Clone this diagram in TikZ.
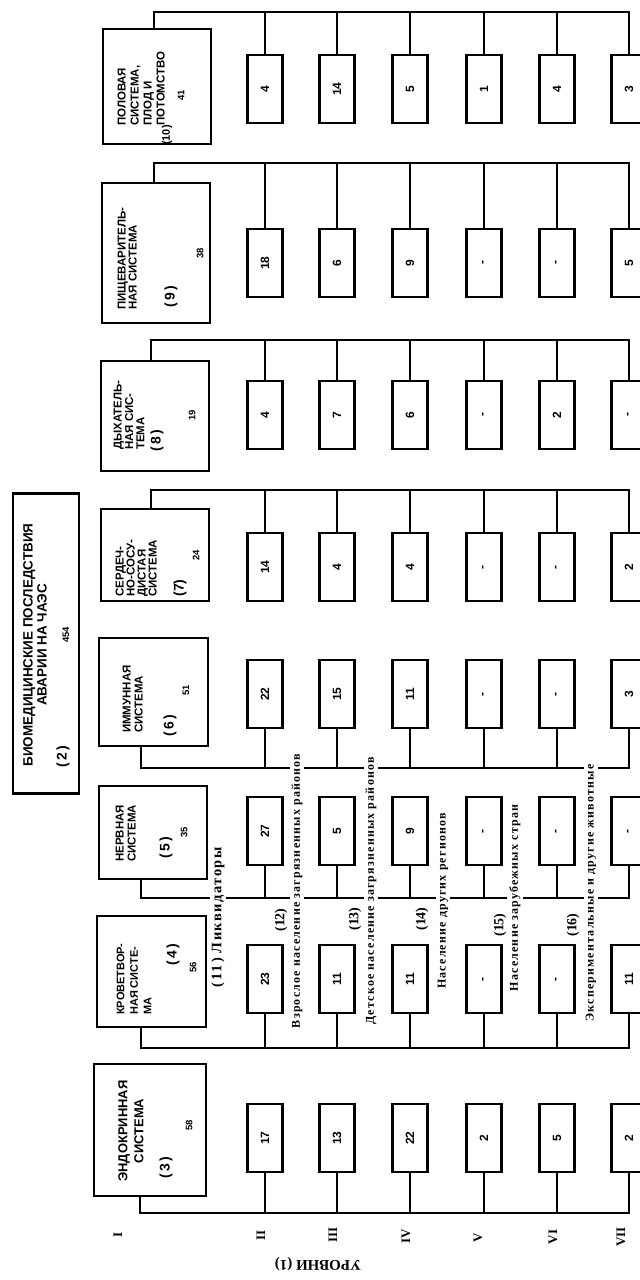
\documentclass[tikz,border=0pt]{standalone}
\usepackage{fontspec}
\setmainfont{Liberation Serif}
\setsansfont{Liberation Sans}
\newfontfamily\grpfont{Liberation Serif}[LetterSpace=10]
\usetikzlibrary{calc}
\tikzset{
  sysbox/.style={draw,line width=2.4pt,inner sep=0pt},
  numbox/.style={draw,line width=2.4pt,rotate=90,minimum width=68pt,minimum height=35pt,inner sep=0pt,font=\sffamily\bfseries\fontsize{12}{12}\selectfont},
  systxt/.style={rotate=90,anchor=north west,inner sep=0pt,align=left,font=\sffamily\bfseries\fontsize{11.5}{12}\selectfont},
  sysno/.style={rotate=90,inner sep=0pt,font=\sffamily\bfseries\fontsize{14}{14}\selectfont},
  sysval/.style={rotate=90,inner sep=0pt,font=\sffamily\bfseries\fontsize{9.5}{9.5}\selectfont},
  grp/.style={rotate=90,fill=white,inner sep=2pt,font=\grpfont\bfseries\fontsize{12}{12}\selectfont},
  grpno/.style={rotate=90,inner sep=0pt,font=\bfseries\fontsize{14}{14}\selectfont},
  lvl/.style={rotate=90,inner sep=0pt,font=\bfseries\fontsize{13}{13}\selectfont},
  bus/.style={line width=2.4pt},
  tie/.style={line width=2pt},
}

\begin{document}
\begin{tikzpicture}[x=1bp,y=-1bp]
  \useasboundingbox (0,0) rectangle (640,1280);
  % ── root ──
  \node[sysbox,minimum width=66,minimum height=301] (root) at (46,643.5) {};
  \node[systxt,anchor=center,align=center,font=\sffamily\bfseries\fontsize{13.5}{14}\selectfont] (roott) at (35,645) {БИОМЕДИЦИНСКИЕ ПОСЛЕДСТВИЯ\\АВАРИИ НА ЧАЭС};
  \node[sysno] (rootn) at (63,757) {(\,2\,)};
  \node[sysval] (rootv) at (66,635) {454};
  % ── system boxes ──
  \node[sysbox,minimum width=108,minimum height=115] (s10) at (157,86.5) {};
  \node[systxt,font=\sffamily\bfseries\fontsize{11.5}{13}\selectfont] (s10t) at (117.5,126) {ПОЛОВАЯ\\СИСТЕМА,\\ПЛОД И\\ПОТОМСТВО};
  \node[sysno,font=\sffamily\bfseries\fontsize{11}{11}\selectfont] (s10n) at (167,135) {(10)}; \node[sysval] (s10v) at (181,95) {41};
  \node[sysbox,minimum width=108,minimum height=140] (s9) at (156,253) {};
  \node[systxt,font=\sffamily\bfseries\fontsize{11.5}{11}\selectfont] (s9t) at (117.5,310) {ПИЩЕВАРИТЕЛЬ-\\НАЯ СИСТЕМА};
  \node[sysno] (s9n) at (171,297) {(\,9\,)}; \node[sysval] (s9v) at (200,253) {38};
  \node[sysbox,minimum width=108,minimum height=110] (s8) at (155,416) {};
  \node[systxt,font=\sffamily\bfseries\fontsize{11.5}{11.5}\selectfont] (s8t) at (113.5,450) {ДЫХАТЕЛЬ-\\НАЯ СИС-\\ТЕМА};
  \node[sysno] (s8n) at (157,441) {(\,8\,)}; \node[sysval] (s8v) at (192,415) {19};
  \node[sysbox,minimum width=108,minimum height=92] (s7) at (155,555) {};
  \node[systxt,font=\sffamily\bfseries\fontsize{11.5}{11}\selectfont] (s7t) at (115.5,597) {СЕРДЕЧ-\\НО-СОСУ-\\ДИСТАЯ\\СИСТЕМА};
  \node[sysno] (s7n) at (180,588) {(7)}; \node[sysval] (s7v) at (196,555) {24};
  \node[sysbox,minimum width=109,minimum height=108] (s6) at (153.5,692) {};
  \node[systxt] (s6t) at (122.5,733) {ИММУННАЯ\\СИСТЕМА};
  \node[sysno] (s6n) at (170,726) {(\,6\,)}; \node[sysval] (s6v) at (186,690) {51};
  \node[sysbox,minimum width=108,minimum height=93] (s5) at (153,832.5) {};
  \node[systxt] (s5t) at (115.5,862) {НЕРВНАЯ\\СИСТЕМА};
  \node[sysno] (s5n) at (166,848) {(\,5\,)}; \node[sysval] (s5v) at (184,832) {35};
  \node[sysbox,minimum width=109,minimum height=111] (s4) at (151.5,971.5) {};
  \node[systxt,font=\sffamily\bfseries\fontsize{11}{13.5}\selectfont] (s4t) at (116.5,1015) {КРОВЕТВОР-\\НАЯ СИСТЕ-\\МА};
  \node[sysno] (s4n) at (173,955) {(\,4\,)}; \node[sysval] (s4v) at (193,967) {56};
  \node[sysbox,minimum width=112,minimum height=132] (s3) at (150,1130) {};
  \node[systxt,anchor=center,align=center,font=\sffamily\bfseries\fontsize{13}{16}\selectfont] (s3t) at (131,1131) {ЭНДОКРИННАЯ\\СИСТЕМА};
  \node[sysno] (s3n) at (166,1168) {(\,3\,)}; \node[sysval] (s3v) at (189,1125) {58};
  % ── values ──
  \node[numbox] (n10a) at (265,89) {4}; \node[numbox] (n10b) at (337,89) {14}; \node[numbox] (n10c) at (410,89) {5};
  \node[numbox] (n10d) at (484,89) {1}; \node[numbox] (n10e) at (557,89) {4}; \node[numbox] (n10f) at (629,89) {3};
  \node[numbox] (n9a) at (265,263) {18}; \node[numbox] (n9b) at (337,263) {6}; \node[numbox] (n9c) at (410,263) {9};
  \node[numbox] (n9d) at (484,263) {-}; \node[numbox] (n9e) at (557,263) {-}; \node[numbox] (n9f) at (629,263) {5};
  \node[numbox] (n8a) at (265,415) {4}; \node[numbox] (n8b) at (337,415) {7}; \node[numbox] (n8c) at (410,415) {6};
  \node[numbox] (n8d) at (484,415) {-}; \node[numbox] (n8e) at (557,415) {2}; \node[numbox] (n8f) at (629,415) {-};
  \node[numbox] (n7a) at (265,567) {14}; \node[numbox] (n7b) at (337,567) {4}; \node[numbox] (n7c) at (410,567) {4};
  \node[numbox] (n7d) at (484,567) {-}; \node[numbox] (n7e) at (557,567) {-}; \node[numbox] (n7f) at (629,567) {2};
  \node[numbox] (n6a) at (265,694) {22}; \node[numbox] (n6b) at (337,694) {15}; \node[numbox] (n6c) at (410,694) {11};
  \node[numbox] (n6d) at (484,694) {-}; \node[numbox] (n6e) at (557,694) {-}; \node[numbox] (n6f) at (629,694) {3};
  \node[numbox] (n5a) at (265,831) {27}; \node[numbox] (n5b) at (337,831) {5}; \node[numbox] (n5c) at (410,831) {9};
  \node[numbox] (n5d) at (484,831) {-}; \node[numbox] (n5e) at (557,831) {-}; \node[numbox] (n5f) at (629,831) {-};
  \node[numbox] (n4a) at (265,979) {23}; \node[numbox] (n4b) at (337,979) {11}; \node[numbox] (n4c) at (410,979) {11};
  \node[numbox] (n4d) at (484,979) {-}; \node[numbox] (n4e) at (557,979) {-}; \node[numbox] (n4f) at (629,979) {11};
  \node[numbox] (n3a) at (265,1138) {17}; \node[numbox] (n3b) at (337,1138) {13}; \node[numbox] (n3c) at (410,1138) {22};
  \node[numbox] (n3d) at (484,1138) {2}; \node[numbox] (n3e) at (557,1138) {5}; \node[numbox] (n3f) at (629,1138) {2};
  % ── buses ──
  \coordinate (b10) at (154,12); \coordinate (b9) at (154,163); \coordinate (b8) at (151,340); \coordinate (b7) at (151,490);
  \coordinate (b6) at (141,768); \coordinate (b5) at (141,898); \coordinate (b4) at (141,1048); \coordinate (b3) at (140,1213);
  \draw[bus] (s10.north -| b10) |- (n10f.east |- b10) -- (n10f.east);
  \draw[tie] (n10a.east) -- (n10a.east |- b10); \draw[tie] (n10b.east) -- (n10b.east |- b10); \draw[tie] (n10c.east) -- (n10c.east |- b10);
  \draw[tie] (n10d.east) -- (n10d.east |- b10); \draw[tie] (n10e.east) -- (n10e.east |- b10);
  \draw[bus] (s9.north -| b9) |- (n9f.east |- b9) -- (n9f.east);
  \draw[tie] (n9a.east) -- (n9a.east |- b9); \draw[tie] (n9b.east) -- (n9b.east |- b9); \draw[tie] (n9c.east) -- (n9c.east |- b9);
  \draw[tie] (n9d.east) -- (n9d.east |- b9); \draw[tie] (n9e.east) -- (n9e.east |- b9);
  \draw[bus] (s8.north -| b8) |- (n8f.east |- b8) -- (n8f.east);
  \draw[tie] (n8a.east) -- (n8a.east |- b8); \draw[tie] (n8b.east) -- (n8b.east |- b8); \draw[tie] (n8c.east) -- (n8c.east |- b8);
  \draw[tie] (n8d.east) -- (n8d.east |- b8); \draw[tie] (n8e.east) -- (n8e.east |- b8);
  \draw[bus] (s7.north -| b7) |- (n7f.east |- b7) -- (n7f.east);
  \draw[tie] (n7a.east) -- (n7a.east |- b7); \draw[tie] (n7b.east) -- (n7b.east |- b7); \draw[tie] (n7c.east) -- (n7c.east |- b7);
  \draw[tie] (n7d.east) -- (n7d.east |- b7); \draw[tie] (n7e.east) -- (n7e.east |- b7);
  \draw[bus] (s6.south -| b6) |- (n6f.west |- b6) -- (n6f.west);
  \draw[tie] (n6a.west) -- (n6a.west |- b6); \draw[tie] (n6b.west) -- (n6b.west |- b6); \draw[tie] (n6c.west) -- (n6c.west |- b6);
  \draw[tie] (n6d.west) -- (n6d.west |- b6); \draw[tie] (n6e.west) -- (n6e.west |- b6);
  \draw[bus] (s5.south -| b5) |- (n5f.west |- b5) -- (n5f.west);
  \draw[tie] (n5a.west) -- (n5a.west |- b5); \draw[tie] (n5b.west) -- (n5b.west |- b5); \draw[tie] (n5c.west) -- (n5c.west |- b5);
  \draw[tie] (n5d.west) -- (n5d.west |- b5); \draw[tie] (n5e.west) -- (n5e.west |- b5);
  \draw[bus] (s4.south -| b4) |- (n4f.west |- b4) -- (n4f.west);
  \draw[tie] (n4a.west) -- (n4a.west |- b4); \draw[tie] (n4b.west) -- (n4b.west |- b4); \draw[tie] (n4c.west) -- (n4c.west |- b4);
  \draw[tie] (n4d.west) -- (n4d.west |- b4); \draw[tie] (n4e.west) -- (n4e.west |- b4);
  \draw[bus] (s3.south -| b3) |- (n3f.west |- b3) -- (n3f.west);
  \draw[tie] (n3a.west) -- (n3a.west |- b3); \draw[tie] (n3b.west) -- (n3b.west |- b3); \draw[tie] (n3c.west) -- (n3c.west |- b3);
  \draw[tie] (n3d.west) -- (n3d.west |- b3); \draw[tie] (n3e.west) -- (n3e.west |- b3);
  % ── groups ──
  \node[grp,font=\grpfont\bfseries\fontsize{14.5}{14.5}\selectfont,inner sep=1pt] (g11) at (218,917.5) {(\,11\,) Ликвидаторы};
  \node[grpno] (g12n) at (281,920) {(12)}; \node[grp] (g12) at (297,891) {Взрослое население загрязненных районов};
  \node[grpno] (g13n) at (355,919) {(13)}; \node[grp] (g13) at (371,891) {Детское население загрязненных районов};
  \node[grpno] (g14n) at (422,919) {(14)}; \node[grp] (g14) at (443,901) {Население других регионов};
  \node[grpno] (g15n) at (500,925) {(15)}; \node[grp] (g15) at (515,898) {Население зарубежных стран};
  \node[grpno] (g16n) at (573,925) {(16)}; \node[grp] (g16) at (591,893) {Экспериментальные и другие животные};
  % ── levels ──
  \node[lvl] (l1) at (118,1235) {I}; \node[lvl] (l2) at (261,1235) {II}; \node[lvl] (l3) at (333,1235) {III};
  \node[lvl] (l4) at (406,1236) {IV}; \node[lvl] (l5) at (478,1238) {V}; \node[lvl] (l6) at (553,1237) {VI};
  \node[lvl] (l7) at (621,1237) {VII};
  \node[lvl,rotate=90,font=\bfseries\fontsize{15}{15}\selectfont] (lvh) at (318,1264) {УРОВНИ (1)};
\end{tikzpicture}
\end{document}
